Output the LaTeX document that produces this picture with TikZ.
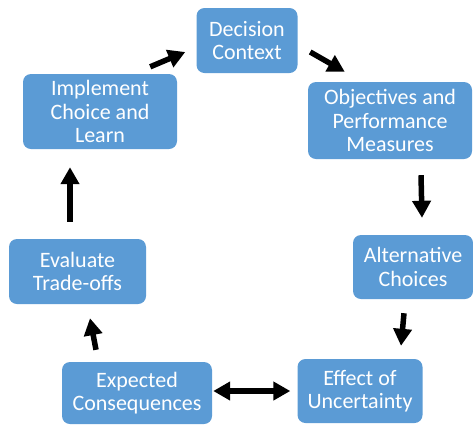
\documentclass[tikz,border=0pt]{standalone}
\usepackage{fontspec}
\setmainfont{Carlito}
\usetikzlibrary{arrows.meta}

\tikzset{
    stage/.style={rectangle, rounded corners=8pt, fill=stageblue, text=white,
        align=center, inner sep=0pt, font=\fontsize{22}{23.5}\selectfont},
    flow/.style={line width=5.5pt, -{Triangle[length=17pt,width=18pt]}},
    both/.style={line width=5.5pt, {Triangle[length=17pt,width=18pt]}-{Triangle[length=17pt,width=18pt]}}
}
\definecolor{stageblue}{RGB}{91,155,213}

\begin{document}
\begin{tikzpicture}[x=1pt, y=-1pt]

    \useasboundingbox (0,0) rectangle (473,424);

    %-----Stages-----
    % Decision Context
    \node [stage, minimum width=101pt, minimum height=65pt] (ctx) at (247,40.5) {%
        Decision\\Context
    };

    % Objectives and Performance Measures
    \node [stage, minimum width=164pt, minimum height=77pt] (obj) at (390,120.5) {%
        Objectives and\\Performance\\Measures
    };

    % Alternative Choices
    \node [stage, minimum width=120pt, minimum height=64pt] (alt) at (413,267) {%
        Alternative\\Choices
    };

    % Effect of Uncertainty
    \node [stage, minimum width=125pt, minimum height=64pt] (eff) at (360,391) {%
        Effect of\\Uncertainty
    };

    % Expected Consequences
    \node [stage, minimum width=150pt, minimum height=62pt] (exp) at (137,393) {%
        Expected\\Consequences
    };

    % Evaluate Trade-offs
    \node [stage, minimum width=137pt, minimum height=65pt] (eva) at (77.5,271.5) {%
        Evaluate\\Trade-offs
    };

    % Implement Choice and Learn
    \node [stage, minimum width=154pt, minimum height=75pt] (imp) at (100,111.5) {%
        Implement\\Choice and\\Learn
    };

    %-----Arrows-----
    \draw [flow] ([shift={(-27,-7)}]imp.north east) -- ([shift={(-11,11.5)}]ctx.west);
    \draw [flow] ([shift={(12.5,11.5)}]ctx.east) -- ([shift={(37,-10)}]obj.north west);
    \draw [flow] ([shift={(31,16)}]obj.south) -- ([shift={(9,-17)}]alt.north);
    \draw [flow] ([shift={(-9,14)}]alt.south) -- ([shift={(41,-13)}]eff.north);
    \draw [both] ([shift={(1,-2)}]exp.east) -- ([xshift=-7]eff.west);
    \draw [flow] ([shift={(-41,-12)}]exp.north) -- ([shift={(12.5,14)}]eva.south);
    \draw [flow] ([shift={(-7.5,-17)}]eva.north) -- ([shift={(-30,18)}]imp.south);

\end{tikzpicture}
\end{document}
